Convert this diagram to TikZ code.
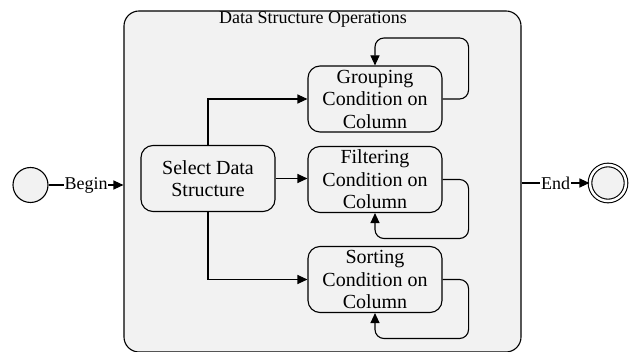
\documentclass[tikz,border=0pt]{standalone}
\usepackage{fontspec}
\setmainfont{Liberation Serif}
\usetikzlibrary{arrows.meta}
\definecolor{boxgray}{RGB}{242,242,242}

\begin{document}
\begin{tikzpicture}[x=1pt,y=-1pt,
		every node/.style={font=\fontsize{18}{22}\selectfont},
		state/.style={draw, line width=1.1pt, rounded corners=12pt, fill=boxgray, align=center,
			minimum width=134pt, minimum height=66pt, inner sep=0pt, font=\fontsize{20}{22.5}\selectfont},
		flow/.style={line width=1.1pt, -{Triangle[length=10pt,width=9pt]}},
		selfloop/.style={flow, rounded corners=9pt},
		terminal/.style={draw, line width=1.1pt, circle, fill=boxgray, minimum size=35pt, inner sep=0pt}]
		\useasboundingbox (0,0) rectangle (629,352);
		% composite state
		\node[draw, line width=1.1pt, rounded corners=15pt, fill=boxgray, minimum width=397pt,
			minimum height=341pt] (ops) at (322.5,181.5) {};
		\node (title) at (313,19) {Data Structure Operations};
		% inner states
		\node[state] (sel) at (208,178.5) {Select Data\\Structure};
		\node[state] (grp) at (375,99) {Grouping\\Condition on\\Column};
		\node[state] (flt) at (375,179.5) {Filtering\\Condition on\\Column};
		\node[state] (srt) at (375,279.5) {Sorting\\Condition on\\Column};
		% start and end
		\node[terminal] (start) at (30.5,185) {};
		\node[terminal, minimum size=36pt, double, double distance=2.5pt] (stop) at (608,183) {};
		\draw[flow] (start) -- node[fill=white, inner sep=1pt] {Begin} (start -| ops.west);
		\draw[flow] (stop -| ops.east) -- node[fill=white, inner sep=1pt] {End} (stop);
		% transitions
		\draw[flow] (sel.north) |- (grp.west);
		\draw[flow] (sel.east) -- (sel.east -| flt.west);
		\draw[flow] (sel.south) |- (srt.west);
		% self loops
		\draw[selfloop] (grp.east) -- ++(26,0) -- ++(0,-61) -| (grp.north);
		\draw[selfloop] (flt.east) -- ++(26,0) -- ++(0,59) -| (flt.south);
		\draw[selfloop] (srt.east) -- ++(26,0) -- ++(0,59) -| (srt.south);
	\end{tikzpicture}
\end{document}
